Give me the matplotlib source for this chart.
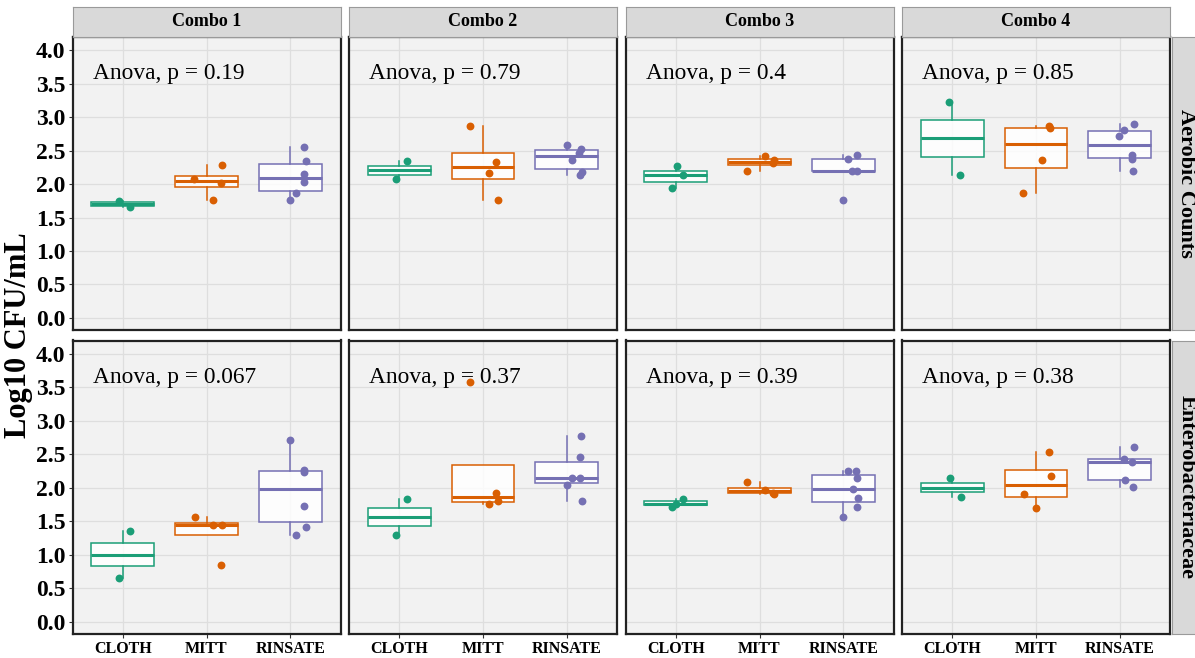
import matplotlib
matplotlib.use("Agg")
import matplotlib.pyplot as plt

plt.rcParams['font.family'] = ['Liberation Serif', 'DejaVu Serif']

# ---------------- data ----------------
categories = ["CLOTH", "MITT", "RINSATE"]
combos = ["Combo 1", "Combo 2", "Combo 3", "Combo 4"]
measures = ["Aerobic Counts", "Enterobacteriaceae"]
anova_p_aerobic = ["0.19", "0.79", "0.4", "0.85"]
anova_p_entero = ["0.067", "0.37", "0.39", "0.38"]
y_ticks = [0.0, 0.5, 1.0, 1.5, 2.0, 2.5, 3.0, 3.5, 4.0]

# Aerobic counts: values per category (CLOTH, MITT, RINSATE)
aer_combo1 = [[1.75, 1.65], [2.29, 2.07, 2.02, 1.76], [2.55, 2.35, 2.15, 2.03, 1.86, 1.76]]
aer_combo2 = [[2.34, 2.07], [2.87, 2.33, 2.17, 1.76], [2.59, 2.52, 2.47, 2.36, 2.18, 2.13]]
aer_combo3 = [[2.27, 2.13, 1.94], [2.42, 2.36, 2.31, 2.20], [2.43, 2.37, 2.20, 2.19, 1.76]]
aer_combo4 = [[3.22, 2.14], [2.86, 2.83, 2.36, 1.86], [2.90, 2.81, 2.72, 2.44, 2.37, 2.20]]
# Enterobacteriaceae
ent_combo1 = [[1.36, 0.65], [1.56, 1.44, 1.44, 0.855], [2.72, 2.26, 2.24, 1.73, 1.42, 1.30]]
ent_combo2 = [[1.84, 1.30], [3.58, 1.93, 1.80, 1.76], [2.78, 2.465, 2.15, 2.15, 2.04, 1.80]]
ent_combo3 = [[1.84, 1.76, 1.72], [2.09, 1.97, 1.93, 1.91], [2.25, 2.25, 2.15, 1.98, 1.85, 1.72, 1.56]]
ent_combo4 = [[2.15, 1.86], [2.53, 2.18, 1.91, 1.70], [2.61, 2.435, 2.38, 2.12, 2.01]]

# horizontal jitter offsets
aer_combo1_dx = [[-0.04, 0.09], [0.19, -0.15, 0.17, 0.08], [0.17, 0.19, 0.17, 0.16, 0.07, 0.0]]
aer_combo2_dx = [[0.09, -0.04], [-0.15, 0.16, 0.07, 0.18], [0.0, 0.17, 0.15, 0.06, 0.18, 0.16]]
aer_combo3_dx = [[0.01, 0.09, -0.04], [0.07, 0.17, 0.16, -0.15], [0.16, 0.06, 0.11, 0.16, 0.0]]
aer_combo4_dx = [[-0.04, 0.09], [0.16, 0.17, 0.07, -0.16], [0.17, 0.05, -0.01, 0.15, 0.15, 0.16]]
ent_combo1_dx = [[0.09, -0.04], [-0.14, 0.08, 0.19, 0.17], [0.0, 0.17, 0.17, 0.16, 0.19, 0.07]]
ent_combo2_dx = [[0.09, -0.04], [-0.15, 0.16, 0.18, 0.07], [0.17, 0.155, 0.06, 0.16, 0.0, 0.18]]
ent_combo3_dx = [[0.09, 0.0, -0.04], [-0.155, 0.07, 0.16, 0.17], [0.06, 0.155, 0.16, 0.12, 0.18, 0.17, 0.0]]
ent_combo4_dx = [[-0.03, 0.10], [0.16, 0.185, -0.146, 0.0], [0.175, 0.05, 0.15, 0.06, 0.16]]

colors = ["#1B9E77", "#D95F02", "#7570B3"]

rows = [
    ([aer_combo1, aer_combo2, aer_combo3, aer_combo4],
     [aer_combo1_dx, aer_combo2_dx, aer_combo3_dx, aer_combo4_dx], anova_p_aerobic),
    ([ent_combo1, ent_combo2, ent_combo3, ent_combo4],
     [ent_combo1_dx, ent_combo2_dx, ent_combo3_dx, ent_combo4_dx], anova_p_entero),
]

# ---------------- layout ----------------
W, H = 1195, 658
fig = plt.figure(figsize=(W / 100, H / 100), dpi=100)
fig.patch.set_facecolor("white")


def px_axes(l, t, r, b, **kw):
    return fig.add_axes([l / W, 1 - b / H, (r - l) / W, (b - t) / H], **kw)


col_left = [72.5, 349.0, 625.5, 902.0]
col_w = 268.0
row_top = [36.7, 340.5]
row_bot = [330.0, 634.0]

panel_bg = "#F2F2F2"
grid_c = "#DEDEDE"
strip_bg = "#D9D9D9"

for r, (panels, offsets, pvals) in enumerate(rows):
    for c in range(4):
        ax = px_axes(col_left[c], row_top[r], col_left[c] + col_w, row_bot[r])
        ax.set_facecolor(panel_bg)
        ax.set_axisbelow(True)

        vals = panels[c]
        dxs = offsets[c]
        bp = ax.boxplot(vals, positions=[1, 2, 3], widths=0.75, whis=1.5,
                        showfliers=False, patch_artist=True, showcaps=False)
        for i in range(3):
            bp["boxes"][i].set_facecolor((1, 1, 1, 0.85))
            bp["boxes"][i].set_edgecolor(colors[i])
            bp["boxes"][i].set_linewidth(1.1)
            bp["medians"][i].set_color(colors[i])
            bp["medians"][i].set_linewidth(2.2)
            for w in bp["whiskers"][2 * i:2 * i + 2]:
                w.set_color(colors[i])
                w.set_linewidth(1.1)
        for i in range(3):
            xs = [i + 1 + d for d in dxs[i]]
            ax.scatter(xs, vals[i], s=32, color=colors[i], zorder=5, linewidths=0)

        ax.set_xlim(0.4, 3.6)
        ax.set_ylim(-0.18, 4.2)
        ax.grid(True, color=grid_c, linewidth=0.9)
        for s in ax.spines.values():
            s.set_color("#222222")
            s.set_linewidth(1.6)
        ax.set_yticks(y_ticks)
        ax.set_xticks([1, 2, 3])
        if c == 0:
            ax.set_yticklabels([f"{v:.1f}" for v in y_ticks], fontsize=17, fontweight="bold")
        else:
            ax.set_yticklabels([])
        if r == 1:
            ax.set_xticklabels(categories, fontsize=11.5, fontweight="bold")
        else:
            ax.set_xticklabels([])
        ax.tick_params(axis="both", length=3, width=0.8, color="#333333", pad=2)
        if r == 0:
            ax.tick_params(axis="x", length=0)
        if c != 0:
            ax.tick_params(axis="y", length=0)

        ax.text(0.64, 3.57, f"Anova, p = {pvals[c]}", fontsize=16.8, va="baseline", ha="left")

        # top strips
        if r == 0:
            sax = px_axes(col_left[c], 7, col_left[c] + col_w, 36.7)
            sax.set_facecolor(strip_bg)
            sax.set_xticks([])
            sax.set_yticks([])
            for s in sax.spines.values():
                s.set_color("#9A9A9A")
                s.set_linewidth(0.8)
            sax.text(0.5, 0.5, combos[c], transform=sax.transAxes, ha="center", va="center",
                     fontsize=13, fontweight="bold")

    # right strips
    rax = px_axes(1172, row_top[r], 1198, row_bot[r])
    rax.set_facecolor(strip_bg)
    rax.set_xticks([])
    rax.set_yticks([])
    for s in rax.spines.values():
        s.set_color("#9A9A9A")
        s.set_linewidth(0.8)
    rax.text(0.55, 0.5, measures[r], transform=rax.transAxes, ha="center", va="center",
             rotation=-90, fontsize=16, fontweight="bold")

fig.text(19 / W, 1 - 335 / H, "Log10 CFU/mL", rotation=90, ha="center", va="center",
         fontsize=22, fontweight="bold")

fig.savefig("out.png", dpi=100)
